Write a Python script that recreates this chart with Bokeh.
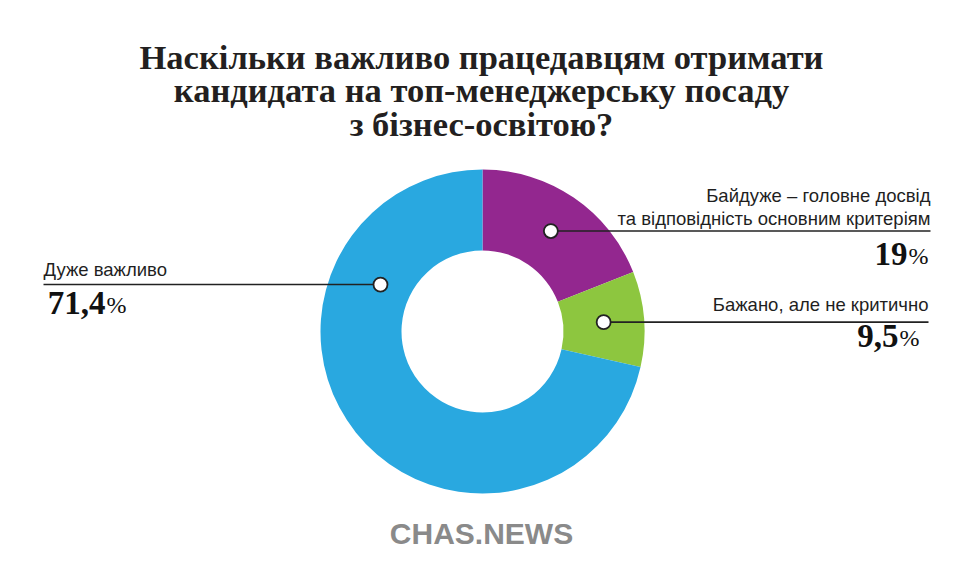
import math
from bokeh.plotting import figure
from bokeh.models import Range1d
from bokeh.core.properties import value
from bokeh.embed import file_html
from bokeh.resources import INLINE

# ---------------- data ----------------
title_lines = [
    "Наскільки важливо працедавцям отримати",
    "кандидата на топ-менеджерську посаду",
    "з бізнес-освітою?",
]
categories = [
    "Байдуже – головне досвід\nта відповідність основним критеріям",
    "Бажано, але не критично",
    "Дуже важливо",
]
shares = [19.0, 9.5, 71.4]
share_labels = ["19", "9,5", "71,4"]
colors = ["#93278F", "#8DC63F", "#29A8E0"]
logo_text = "CHAS.NEWS"

# ---------------- layout helpers ----------------
W, H = 944, 563
def Y(img_y):
    return 579 - img_y

def TY(img_baseline, size, k=0.4):
    # compensate for the renderer's baseline placement
    return Y(img_baseline - k * size)

p = figure(width=W, height=H, x_range=Range1d(0, 944), y_range=Range1d(16, 579),
           output_backend="svg", toolbar_location=None, min_border=0,
           x_axis_location=None, y_axis_location=None)
p.outline_line_color = None
p.grid.visible = False
p.background_fill_color = "white"
p.border_fill_color = "white"

# ---------------- donut ----------------
cx, cy = 482, Y(331)
r_in, r_out = 81, 162
total = sum(shares)
starts, ends, mids = [], [], []
cum = 0.0
for v in shares:
    a0 = math.pi / 2 - 2 * math.pi * cum / total
    cum += v
    a1 = math.pi / 2 - 2 * math.pi * cum / total
    starts.append(a0)
    ends.append(a1)
    mids.append((a0 + a1) / 2)

p.annular_wedge(x=[cx] * 3, y=[cy] * 3, inner_radius=r_in, outer_radius=r_out,
                start_angle=starts, end_angle=ends, direction="clock",
                fill_color=colors, line_color=None)

# marker positions (purple/green at mid-angle, blue placed at upper-left)
label_angles = [mids[0], mids[1], math.radians(155.3)]
label_radii = [121.5, 121.5, 112.3]
mx = [cx + r * math.cos(a) for r, a in zip(label_radii, label_angles)]
my = [cy + r * math.sin(a) for r, a in zip(label_radii, label_angles)]

# leader lines
line_end_x = [930, 928, 43]
for i in range(3):
    p.line(x=[mx[i], line_end_x[i]], y=[my[i], my[i]], line_color="#222222", line_width=1.6)

p.scatter(x=mx, y=my, size=14, marker="circle", fill_color="white",
          line_color="#222222", line_width=1.8)

# ---------------- texts ----------------
TXT = "#1f1f1f"
ts = 34.5
p.text(x=[481, 481, 481], y=[TY(70, ts), TY(103.5, ts), TY(137, ts)], text=title_lines,
       text_font=value("Liberation Serif"), text_font_style="bold",
       text_font_size=f"{ts}px", text_align="center", text_baseline="alphabetic",
       text_color="#231f20")

# category labels
ls = 18.5
cat_lines_1 = categories[0].split("\n")
p.text(x=[930, 930], y=[TY(202, ls), TY(225, ls)], text=cat_lines_1,
       text_font=value("Liberation Sans"), text_font_size=f"{ls}px",
       text_align="right", text_baseline="alphabetic", text_color=TXT)
p.text(x=[928], y=[TY(311, ls)], text=[categories[1]],
       text_font=value("Liberation Sans"), text_font_size=f"{ls}px",
       text_align="right", text_baseline="alphabetic", text_color=TXT)
p.text(x=[43], y=[TY(276, ls)], text=[categories[2]],
       text_font=value("Liberation Sans"), text_font_size=f"{ls}px",
       text_align="left", text_baseline="alphabetic", text_color=TXT)

# percentages: number (right aligned) + smaller % sign
ns, ps = 33, 24
num_right = [907, 898, 105]
num_base = [263, 345, 312]
p.text(x=num_right, y=[TY(b, ns, 0.3) for b in num_base], text=share_labels,
       text_font=value("Liberation Serif"), text_font_style="bold",
       text_font_size=f"{ns}px", text_align="right", text_baseline="alphabetic",
       text_color="#111111")
p.text(x=[x + 1 for x in num_right], y=[TY(b, ps, 0.3) for b in num_base], text=["%"] * 3,
       text_font=value("Liberation Serif"),
       text_font_size=f"{ps}px", text_align="left", text_baseline="alphabetic",
       text_color="#111111")

# logo
gs = 30
p.text(x=[481], y=[TY(545, gs)], text=[logo_text],
       text_font=value("Liberation Sans"), text_font_style="bold",
       text_font_size=f"{gs}px", text_align="center", text_baseline="alphabetic",
       text_color="#8a8a8a")

open("out.html", "w").write(file_html(p, INLINE))
